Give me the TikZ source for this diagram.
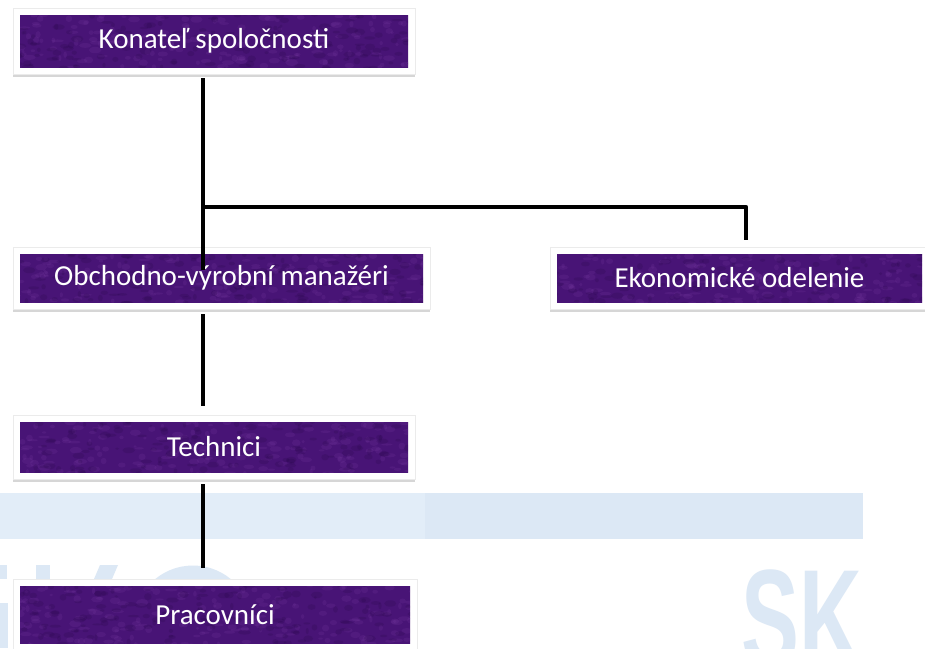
\documentclass[tikz,border=0pt]{standalone}
\usepackage{fontspec}
\setmainfont{Carlito}
\newfontfamily\wmfont{Liberation Sans}
\usetikzlibrary{calc,shadows}
\definecolor{boxpurple}{RGB}{72,20,118}
\definecolor{boxlight}{RGB}{125,62,165}
\definecolor{boxdark}{RGB}{38,6,72}
\definecolor{wmblue}{RGB}{220,232,245}
\definecolor{wmbluelight}{RGB}{226,237,248}
\tikzset{
  orgbox/.style={
    fill=white, draw=black!8, line width=0.5pt,
    drop shadow={shadow xshift=0pt, shadow yshift=-3pt, fill=black!40, opacity=0.4},
    text=white, font=\fontsize{29}{34}\selectfont, inner sep=0pt,
    path picture={
      \begin{scope}
        \clip ([shift={(7,7)}]path picture bounding box.north west) rectangle ([shift={(-7,-7)}]path picture bounding box.south east);
        \fill[boxpurple] (path picture bounding box.north west) rectangle (path picture bounding box.south east);
        \foreach \i in {1,...,260}
          \fill[boxlight, opacity=0.18] ([shift={(rnd*430,rnd*75)}]path picture bounding box.north west) ellipse ({1.5+rnd*5} and {1+rnd*2.5});
        \foreach \i in {1,...,200}
          \fill[boxdark, opacity=0.2] ([shift={(rnd*430,rnd*75)}]path picture bounding box.north west) ellipse ({1.5+rnd*5} and {1+rnd*2.5});
      \end{scope}
    }
  },
  link/.style={draw=black, line width=4.6pt, line join=round}
}
\pgfmathsetseed{4242}
\begin{document}
\begin{tikzpicture}[x=1pt,y=-1pt]
\useasboundingbox (0,0) rectangle (925,648);
\fill[white] (0,0) rectangle (925,648);
% watermark
\fill[wmbluelight] (0,493) rectangle (425,539);
\fill[wmblue] (425,493) rectangle (863,539);
\fill[wmblue] (36,565) rectangle (50,579);
\fill[wmblue] (100,565) -- (118,565) -- (112,579) -- (94,579) -- cycle;
\fill[wmblue] (0,565) rectangle (7,579);
\fill[wmblue] (0,603) rectangle (8,648);
\draw[wmblue, line width=15pt] (193,625) circle (52);
\node[anchor=base west, inner sep=0pt, text=wmblue, xscale=0.62, font=\wmfont\bfseries\fontsize{140}{140}\selectfont] (sk) at (741,667) {SK};
% boxes
\node[orgbox, minimum width=402pt, minimum height=66pt] (b1) at (214,41) {Konateľ spoločnosti};
\node[orgbox, minimum width=417pt, minimum height=62pt] (b2) at (221.5,278) {Obchodno-výrobní manažéri};
\node[orgbox, minimum width=379pt, minimum height=62pt] (b3) at (739.5,278) {Ekonomické odelenie};
\node[orgbox, minimum width=402pt, minimum height=64pt] (b4) at (214,447) {Technici};
\node[orgbox, minimum width=404pt, minimum height=71pt] (b5) at (215,614.5) {Pracovníci};
% connectors
\coordinate (j1) at (203,207);
\coordinate (j2) at (746,207);
\draw[link] ([yshift=-4pt]b1.south -| j1) -- (j1) -- (j2) -- ([yshift=7pt]b3.north -| j2);
\draw[link] (j1) -- ([yshift=8pt]b2.center -| j1);
\draw[link] ([yshift=-5pt]b2.south -| j1) -- ([yshift=9pt]b4.north -| j1);
\draw[link] ([yshift=-5pt]b4.south -| j1) -- ([yshift=11pt]b5.north -| j1);
\end{tikzpicture}
\end{document}
